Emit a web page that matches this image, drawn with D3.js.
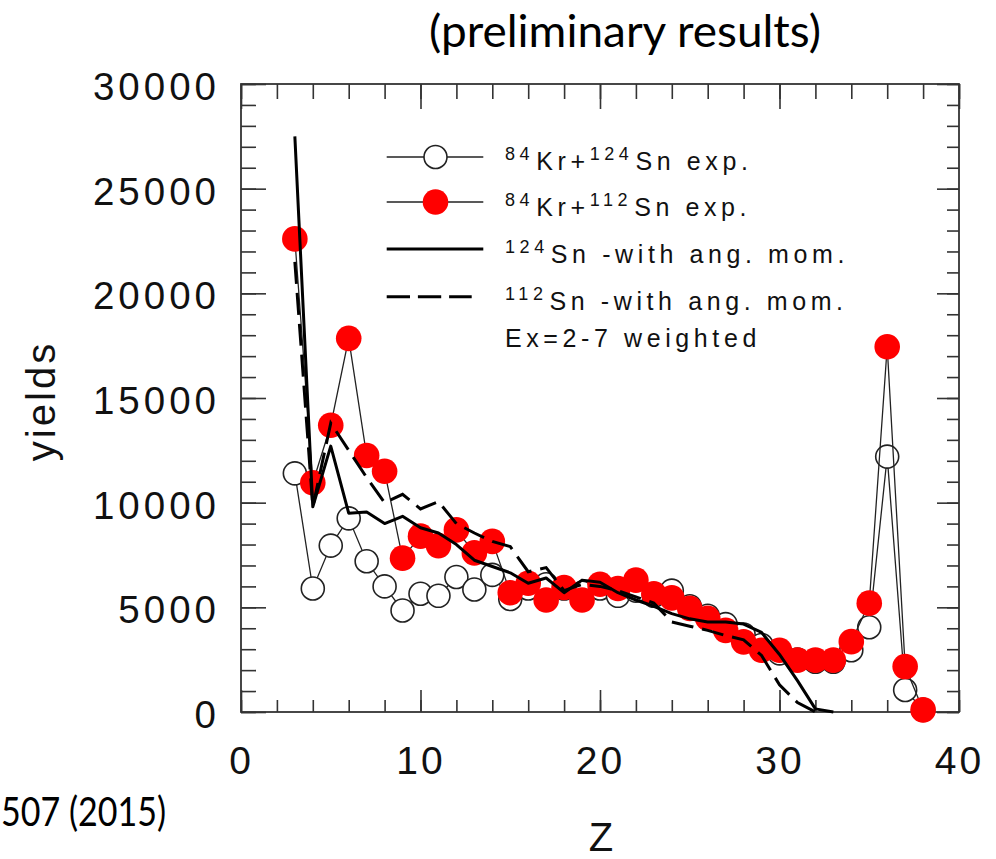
<!DOCTYPE html>
<html>
<head>
<meta charset="utf-8">
<script src="https://cdn.jsdelivr.net/npm/d3@7"></script>
<style>
  body { margin: 0; background: #fff; }
  svg { display: block; }
</style>
</head>
<body>
<svg id="chart" width="996" height="859"></svg>
<script>
// Fragment charge Z for the measured yields
const zExp = d3.range(3, 39);
// 84Kr + 124Sn measured yields
const yield124Exp = [11400, 5900, 7950, 9250, 7200, 6000, 4850, 5650, 5550, 6450,
  5850, 6550, 5400, 5900, 6100, 5900, 5700, 5900, 5550, 5800,
  5550, 5800, 5050, 4600, 4200, 3700, 3200, 2800, 2500, 2400,
  2400, 2950, 4050, 12200, 1050, 100];
// 84Kr + 112Sn measured yields
const yield112Exp = [22600, 10950, 13700, 17850, 12250, 11500, 7350, 8400, 7950, 8700,
  7600, 8150, 5700, 6150, 5350, 5950, 5350, 6100, 5900, 6300,
  5650, 5450, 4950, 4480, 3900, 3350, 2950, 2950, 2480, 2480,
  2480, 3360, 5200, 17450, 2170, 100];
// Calculations with angular momentum (Ex = 2-7, weighted)
const zCalc124 = d3.range(3, 34);
const yield124Calc = [27500, 9800, 12700, 9500, 9550, 9000, 9350, 8800, 8550, 8000,
  7250, 6950, 6650, 6150, 6400, 5700, 6300, 6200, 5700, 5350,
  5050, 4700, 4450, 4300, 4300, 4200, 3800, 2750, 1500, 150, 0];
const zCalc112 = d3.range(3, 33);
const yield112Calc = [21500, 9800, 13800, 12500, 11200, 10000, 10400, 9700, 10050, 9000,
  8550, 8150, 7900, 6700, 6900, 5800, 6100, 6000, 5800, 5500,
  5200, 4300, 4100, 3900, 3650, 3450, 2700, 1300, 450, 0];

const xMajorTicks = [0, 10, 20, 30, 40];
const xMinorTicks = d3.range(0, 41, 2);
const yMajorTicks = [0, 5000, 10000, 15000, 20000, 25000, 30000];
const yMinorTicks = d3.range(0, 30001, 1000);

const legendLabels = [
  [["84", true], ["Kr+", false], ["124", true], ["Sn exp.", false]],
  [["84", true], ["Kr+", false], ["112", true], ["Sn exp.", false]],
  [["124", true], ["Sn -with ang. mom.", false]],
  [["112", true], ["Sn -with ang. mom.", false]],
  [["Ex=2-7 weighted", false]]
];

const svg = d3.select("#chart");
const L = 241, R = 959, T = 84, B = 712;
const x = d3.scaleLinear().domain([0, 40]).range([L, R]);
const y = d3.scaleLinear().domain([0, 30000]).range([B, T]);

const axisFont = "'Liberation Sans', Arial, sans-serif";
const tickColor = "#333";

// ----- axes (ticks point inward on all four sides) -----
function styleAxis(g) {
  g.select(".domain").remove();
  g.selectAll(".tick line").attr("stroke", tickColor).attr("stroke-width", 1.6);
}
svg.append("g").attr("transform", `translate(0,${B})`)
  .call(d3.axisBottom(x).tickValues(xMinorTicks).tickSize(-12).tickFormat(""))
  .call(styleAxis);
svg.append("g").attr("transform", `translate(0,${B})`)
  .call(d3.axisBottom(x).tickValues(xMajorTicks).tickSize(-22).tickPadding(34).tickFormat(d3.format("d")))
  .call(styleAxis)
  .call(g => g.selectAll("text").attr("font-family", axisFont).attr("font-size", 39)
    .attr("fill", "#111").attr("letter-spacing", 3));
svg.append("g").attr("transform", `translate(0,${T})`)
  .call(d3.axisTop(x).tickValues(xMinorTicks).tickSize(-15).tickFormat(""))
  .call(styleAxis);
svg.append("g").attr("transform", `translate(0,${T})`)
  .call(d3.axisTop(x).tickValues(xMajorTicks).tickSize(-25).tickFormat(""))
  .call(styleAxis);
svg.append("g").attr("transform", `translate(${L},0)`)
  .call(d3.axisLeft(y).tickValues(yMinorTicks).tickSize(-15).tickFormat(""))
  .call(styleAxis);
svg.append("g").attr("transform", `translate(${L},0)`)
  .call(d3.axisLeft(y).tickValues(yMajorTicks).tickSize(-25).tickPadding(21).tickFormat(d3.format("d")))
  .call(styleAxis)
  .call(g => g.selectAll("text").attr("font-family", axisFont).attr("font-size", 38.5)
    .attr("fill", "#111").attr("letter-spacing", 4).attr("dy", "0.4em"));
svg.append("g").attr("transform", `translate(${R},0)`)
  .call(d3.axisRight(y).tickValues(yMinorTicks).tickSize(-12).tickFormat(""))
  .call(styleAxis);
svg.append("g").attr("transform", `translate(${R},0)`)
  .call(d3.axisRight(y).tickValues(yMajorTicks).tickSize(-22).tickFormat(""))
  .call(styleAxis);

// frame
svg.append("rect").attr("x", L).attr("y", T).attr("width", R - L).attr("height", B - T)
  .attr("fill", "none").attr("stroke", tickColor).attr("stroke-width", 1.8);

// ----- data series -----
const thin = d3.line().x(d => x(d[0])).y(d => y(d[1]));
const pts124 = zExp.map((z, i) => [z, yield124Exp[i]]);
const pts112 = zExp.map((z, i) => [z, yield112Exp[i]]);
const calc124 = zCalc124.map((z, i) => [z, yield124Calc[i]]);
const calc112 = zCalc112.map((z, i) => [z, yield112Calc[i]]);

// 124Sn experiment: thin line + open circles
svg.append("path").datum(pts124).attr("d", thin)
  .attr("fill", "none").attr("stroke", "#222").attr("stroke-width", 1.3);
svg.append("g").selectAll("circle").data(pts124).join("circle")
  .attr("cx", d => x(d[0])).attr("cy", d => y(d[1])).attr("r", 11.5)
  .attr("fill", "#fff").attr("stroke", "#222").attr("stroke-width", 1.6);

// 112Sn experiment: thin line + red dots
svg.append("path").datum(pts112).attr("d", thin)
  .attr("fill", "none").attr("stroke", "#222").attr("stroke-width", 1.3);
svg.append("g").selectAll("circle").data(pts112).join("circle")
  .attr("cx", d => x(d[0])).attr("cy", d => y(d[1])).attr("r", 12.8)
  .attr("fill", "#ff0000");

// calculations
svg.append("path").datum(calc124).attr("d", thin)
  .attr("fill", "none").attr("stroke", "#000").attr("stroke-width", 3)
  .attr("stroke-linejoin", "round");
svg.append("path").datum(calc112).attr("d", thin)
  .attr("fill", "none").attr("stroke", "#000").attr("stroke-width", 3)
  .attr("stroke-dasharray", "22,9");

// ----- legend -----
const legX0 = 386.7, legX1 = 483.3, legTextX = 505;
const legRowsY = [157, 202, 249, 296.7];
const lg = svg.append("g");
// row 1: open circle marker
lg.append("line").attr("x1", legX0).attr("x2", legX1).attr("y1", legRowsY[0]).attr("y2", legRowsY[0])
  .attr("stroke", "#222").attr("stroke-width", 1.3);
lg.append("circle").attr("cx", 435.5).attr("cy", legRowsY[0]).attr("r", 11.5)
  .attr("fill", "#fff").attr("stroke", "#222").attr("stroke-width", 1.6);
// row 2: red dot marker
lg.append("line").attr("x1", legX0).attr("x2", legX1).attr("y1", legRowsY[1]).attr("y2", legRowsY[1])
  .attr("stroke", "#222").attr("stroke-width", 1.3);
lg.append("circle").attr("cx", 435.5).attr("cy", legRowsY[1]).attr("r", 12.8).attr("fill", "#ff0000");
// row 3: solid
lg.append("line").attr("x1", legX0).attr("x2", legX1).attr("y1", legRowsY[2]).attr("y2", legRowsY[2])
  .attr("stroke", "#000").attr("stroke-width", 3);
// row 4: dashed
lg.append("line").attr("x1", legX0).attr("x2", 471.7).attr("y1", legRowsY[3]).attr("y2", legRowsY[3])
  .attr("stroke", "#000").attr("stroke-width", 3).attr("stroke-dasharray", "23.3,7.9");

const legBaselines = [169.5, 216, 262.5, 309.5, 346.5];
legendLabels.forEach((parts, i) => {
  const t = lg.append("text").attr("x", legTextX).attr("y", legBaselines[i])
    .attr("font-family", axisFont).attr("font-size", 25).attr("fill", "#111")
    .attr("letter-spacing", 4.6);
  parts.forEach(([s, sup], j) => {
    const ts = t.append("tspan").text(s);
    if (sup) ts.attr("font-size", 18).attr("dy", -10);
    else if (j > 0 && parts[j - 1][1]) ts.attr("dy", 10).attr("dx", 2);
  });
});

// ----- axis titles and annotations -----
svg.append("text").attr("transform", "translate(55,401) rotate(-90)")
  .attr("text-anchor", "middle").attr("font-family", axisFont).attr("font-size", 40)
  .attr("fill", "#111").attr("letter-spacing", 3).text("yields");
svg.append("text").attr("x", 601).attr("y", 851)
  .attr("text-anchor", "middle").attr("font-family", axisFont).attr("font-size", 40)
  .attr("fill", "#111").text("Z");
svg.append("text").attr("x", 625).attr("y", 47)
  .attr("text-anchor", "middle").attr("font-family", "Lato, 'Open Sans', sans-serif").attr("font-size", 44)
  .attr("fill", "#000").attr("textLength", 392).attr("lengthAdjust", "spacingAndGlyphs")
  .text("(preliminary results)");
svg.append("text").attr("x", 1).attr("y", 826)
  .attr("font-family", "Lato, 'Open Sans', sans-serif").attr("font-size", 40)
  .attr("fill", "#000").attr("textLength", 165).attr("lengthAdjust", "spacingAndGlyphs")
  .text("507 (2015)");
</script>
</body>
</html>
